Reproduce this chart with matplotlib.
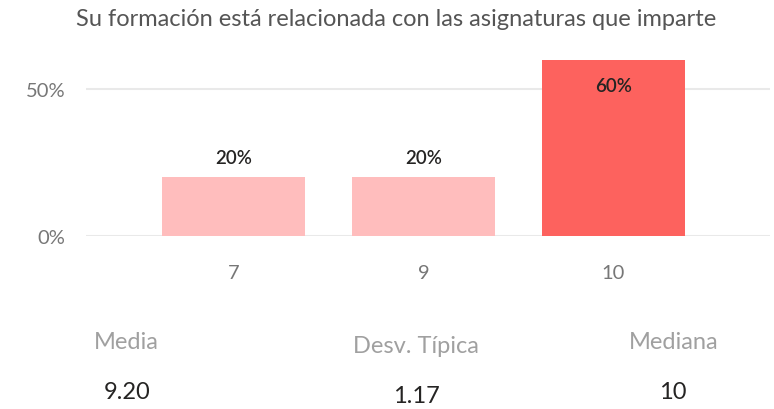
import matplotlib
matplotlib.use("Agg")
import matplotlib.pyplot as plt
from matplotlib.ticker import FuncFormatter

title = "Su formación está relacionada con las asignaturas que imparte"
categories = ["7", "9", "10"]
values = [20, 20, 60]
bar_colors = ["#FFBDBD", "#FFBDBD", "#FD625E"]
yticks = [0, 50]
stat_labels = ["Media", "Desv. Típica", "Mediana"]
stat_values = ["9.20", "1.17", "10"]

plt.rcParams['font.family'] = ['Lato', 'DejaVu Sans']

fig = plt.figure(figsize=(7.74, 4.10), dpi=100)
ax = fig.add_axes([86/774, 1 - 237/410, (770-86)/774, (237-54.7)/410])

x = list(range(len(categories)))
ax.bar(x, values, width=0.753, color=bar_colors, zorder=2)
ax.set_xlim(-0.776, 2.824)
ax.set_ylim(0, 62)
ax.set_yticks(yticks)
ax.yaxis.set_major_formatter(FuncFormatter(lambda v, p: f"{v:.0f}%"))
ax.set_xticks(x)
ax.set_xticklabels(categories)
ax.grid(axis='y', color='#E9E9E9', linewidth=1.5, zorder=0)
ax.set_axisbelow(True)
for s in ax.spines.values():
    s.set_visible(False)
ax.tick_params(axis='both', length=0, colors='#777777', labelsize=14.5)
ax.tick_params(axis='y', pad=15)
ax.tick_params(axis='x', pad=20)

for xi, v in zip(x, values):
    if v > 40:
        ax.annotate(f"{v}%", (xi, v), xytext=(0, -25), textcoords='offset points',
                    ha='center', va='bottom', fontsize=13.5, color='#252423', fontweight='semibold')
    else:
        ax.annotate(f"{v}%", (xi, v), xytext=(0, 8), textcoords='offset points',
                    ha='center', va='bottom', fontsize=13.5, color='#252423', fontweight='semibold')

fig.text(396/774, 1 - 20/410, title, ha='center', va='center', fontsize=17, color='#555555')

label_pos = [(126, 343), (416, 347), (674, 343)]
value_pos = [(127, 393), (416, 397), (673, 393)]
for lab, (px, py) in zip(stat_labels, label_pos):
    fig.text(px/774, 1 - py/410, lab, ha='center', va='center', fontsize=17, color='#A0A0A0')
for val, (px, py) in zip(stat_values, value_pos):
    fig.text(px/774, 1 - py/410, val, ha='center', va='center', fontsize=17, color='#252423')

fig.savefig("out.png", dpi=100, facecolor='white')
